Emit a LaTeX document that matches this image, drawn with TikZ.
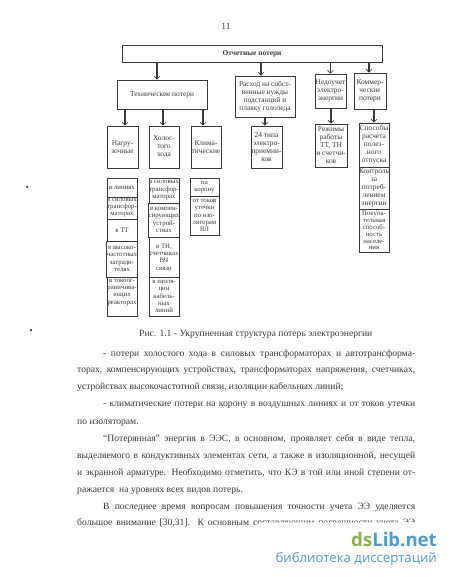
\documentclass[tikz,border=0pt]{standalone}
\usepackage{fontspec}
\setmainfont{Liberation Serif}
\newfontfamily\logofont{Open Sans}
\usetikzlibrary{arrows.meta}
\definecolor{ink}{gray}{0.22}
\definecolor{logogreen}{HTML}{8CB04E}
\definecolor{logoblue}{HTML}{4E9BD0}
\tikzset{
  bx/.style={draw=ink,line width=0.8pt,fill=white,inner sep=0pt,align=center,text=ink,font=\fontsize{7.4}{8}\selectfont},
  small/.style={font=\fontsize{6.8}{7.4}\selectfont},
  arr/.style={draw=ink,line width=1.1pt,-{Straight Barb[length=3pt,width=6pt,line width=0.6pt]}},
  bodyline/.style={anchor=base west,inner sep=0pt,text=ink,font=\fontsize{9.6}{11}\selectfont},
  dot/.style={circle,fill=ink,inner sep=0pt,minimum size=2.5pt}
}
\newcommand{\jl}[1]{\hbox to 338pt{#1}}
\newcommand{\jr}[1]{\hbox to 312pt{#1}}
\begin{document}
\begin{tikzpicture}[x=1pt,y=-1pt]
\useasboundingbox[fill=white] (0,0) rectangle (450,577);
\node[anchor=center,text=ink,font=\fontsize{9.5}{11}\selectfont] (pg) at (226,26) {11};
% boxes
\node[bx,minimum width=260pt,minimum height=17pt,font=\bfseries\fontsize{7.4}{8}\selectfont] (top) at (252,53.5) {Отчетные потери};
\node[bx,minimum width=90pt,minimum height=29pt] (tech) at (162,94.5) {Технические потери};
\node[bx,minimum width=60pt,minimum height=41pt] (rash) at (265,96.5) {Расход на собст-\\венные нужды\\подстанций и\\плавку гололеда};
\node[bx,minimum width=31pt,minimum height=34pt] (ned) at (330.5,91) {Недоучет\\электро-\\энергии};
\node[bx,minimum width=32pt,minimum height=36pt] (kom) at (370,91) {Коммер-\\ческие\\потери};
\node[bx,minimum width=31pt,minimum height=42pt] (nag) at (122.5,147) {Нагру-\\зочные};
\node[bx,minimum width=30pt,minimum height=42pt] (hol) at (164,147) {Холос-\\того\\хода};
\node[bx,minimum width=30pt,minimum height=42pt] (kli) at (206,147) {Клима-\\тические};
\node[bx,minimum width=31pt,minimum height=42pt] (tip) at (266.5,147) {24 типа\\электро-\\приемни-\\ков};
\node[bx,minimum width=32pt,minimum height=43pt] (rez) at (331,145.5) {Режимы\\работы\\ТТ, ТН\\и счетчи-\\ков};
\node[bx,minimum width=30pt,minimum height=44pt] (spo) at (374,145) {Способы\\расчета\\полез-\\ного\\отпуска};
\node[bx,minimum width=30pt,minimum height=42pt] (kon) at (374,188) {Контроль\\за\\потреб-\\лением\\энергии};
\node[bx,minimum width=30pt,minimum height=43pt,font=\fontsize{6.8}{6.9}\selectfont] (pok) at (374,230.5) {Покупа-\\тельная\\способ-\\ность\\населе-\\ния};
% column 1
\node[bx,small,minimum width=30pt,minimum height=19pt] (a1) at (122,187.5) {в линиях};
\node[bx,small,minimum width=30pt,minimum height=22pt,font=\fontsize{6.8}{6.9}\selectfont] (a2) at (122,208) {в силовых\\трансфор-\\маторах};
\node[bx,small,minimum width=30pt,minimum height=22pt] (a3) at (122,230) {в ТТ};
\node[bx,small,minimum width=30pt,minimum height=36pt] (a4) at (122,259) {в высоко-\\частотных\\загради-\\телях};
\node[bx,small,minimum width=30pt,minimum height=39pt] (a5) at (122,296.5) {в токоог-\\раничива-\\ющих\\реакторах\\\strut};
% column 2
\node[bx,small,minimum width=30pt,minimum height=25pt] (b1) at (164,190.5) {в силовых\\трансфор-\\маторах};
\node[bx,small,minimum width=30pt,minimum height=34pt] (b2) at (164,220) {в компен-\\сирующих\\устрой-\\ствах};
\node[bx,small,minimum width=30pt,minimum height=40pt] (b3) at (164,257) {в ТН,\\счетчиках\\ВЧ\\связи};
\node[bx,small,minimum width=30pt,minimum height=39pt] (b4) at (164,296.5) {в изоля-\\ции\\кабель-\\ных\\линий};
% column 3
\node[bx,small,minimum width=29pt,minimum height=18pt] (c1) at (204.5,187) {на\\корону};
\node[bx,small,minimum width=29pt,minimum height=39pt] (c2) at (204.5,215.5) {от токов\\утечки\\по изо-\\ляторам\\ВЛ};
% connectors
\draw[arr] ([xshift=-5pt]tech.north |- top.south) -- ([xshift=-5pt]tech.north);
\draw[arr] ([xshift=-4pt]rash.north |- top.south) -- ([xshift=-4pt]rash.north);
\draw[arr] (ned.north |- top.south) -- (ned.north);
\draw[arr] ([xshift=-1pt]kom.north |- top.south) -- ([xshift=-1pt]kom.north);
\draw[arr] ([xshift=2.5pt]nag.north |- tech.south) -- ([xshift=2.5pt]nag.north);
\draw[arr] ([xshift=-1pt]hol.north |- tech.south) -- ([xshift=-1pt]hol.north);
\draw[arr] ([xshift=-3pt]kli.north |- tech.south) -- ([xshift=-3pt]kli.north);
\draw[arr] ([xshift=-1.5pt]tip.north |- rash.south) -- ([xshift=-1.5pt]tip.north);
\draw[arr] (rez.north |- ned.south) -- (rez.north);
\draw[arr] (spo.north |- kom.south) -- (spo.north);
% caption and body
\node[bodyline] (cap) at (139,336) {Рис. 1.1 - Укрупненная структура потерь электроэнергии};
\node[bodyline] (l1) at (103,356) {\jr{- потери холостого хода в силовых трансформаторах и автотрансформа-}};
\node[bodyline] (l2) at (77,372.5) {\jl{торах, компенсирующих устройствах, трансформаторах напряжения, счетчиках,}};
\node[bodyline] (l3) at (77,389.5) {устройствах высокочастотной связи, изоляции кабельных линий;};
\node[bodyline] (l4) at (103,406.5) {\jr{- климатические потери на корону в воздушных линиях и от токов утечки}};
\node[bodyline] (l5) at (77,424) {по изоляторам.};
\node[bodyline] (l6) at (103,441) {\jr{“Потерянная” энергия в ЭЭС, в основном, проявляет себя в виде тепла,}};
\node[bodyline] (l7) at (77,458) {\jl{выделяемого в кондуктивных элементах сети, а также в изоляционной, несущей}};
\node[bodyline] (l8) at (77,475) {\jl{и экранной арматуре. Необходимо отметить, что КЭ в той или иной степени от-}};
\node[bodyline] (l9) at (77,492) {ражается\ \ на уровнях всех видов потерь.};
\node[bodyline] (l10) at (103,509) {\jr{В последнее время вопросам повышения точности учета ЭЭ уделяется}};
\node[bodyline] (l11) at (77,525.5) {\jl{большое внимание [30,31]. К основным составляющим погрешности учета ЭЭ}};
% watermark
\fill[white] (248,528) -- (262,522.3) -- (450,522.3) -- (450,577) -- (77,577) -- (77,528) -- cycle;
\node[anchor=base east,inner sep=0pt,font=\logofont\bfseries\fontsize{18.6}{20}\selectfont] (logo) at (437,546) {\textcolor{logogreen}{ds}\textcolor{logoblue}{Lib.net}};
\node[anchor=base east,inner sep=0pt,text=logoblue,font=\logofont\fontsize{13.2}{14}\selectfont] (logob) at (437,562) {библиотека диссертаций};
% margin specks
\node[dot] (d1) at (27,187) {};
\node[dot] (d2) at (31,330) {};
\end{tikzpicture}
\end{document}
